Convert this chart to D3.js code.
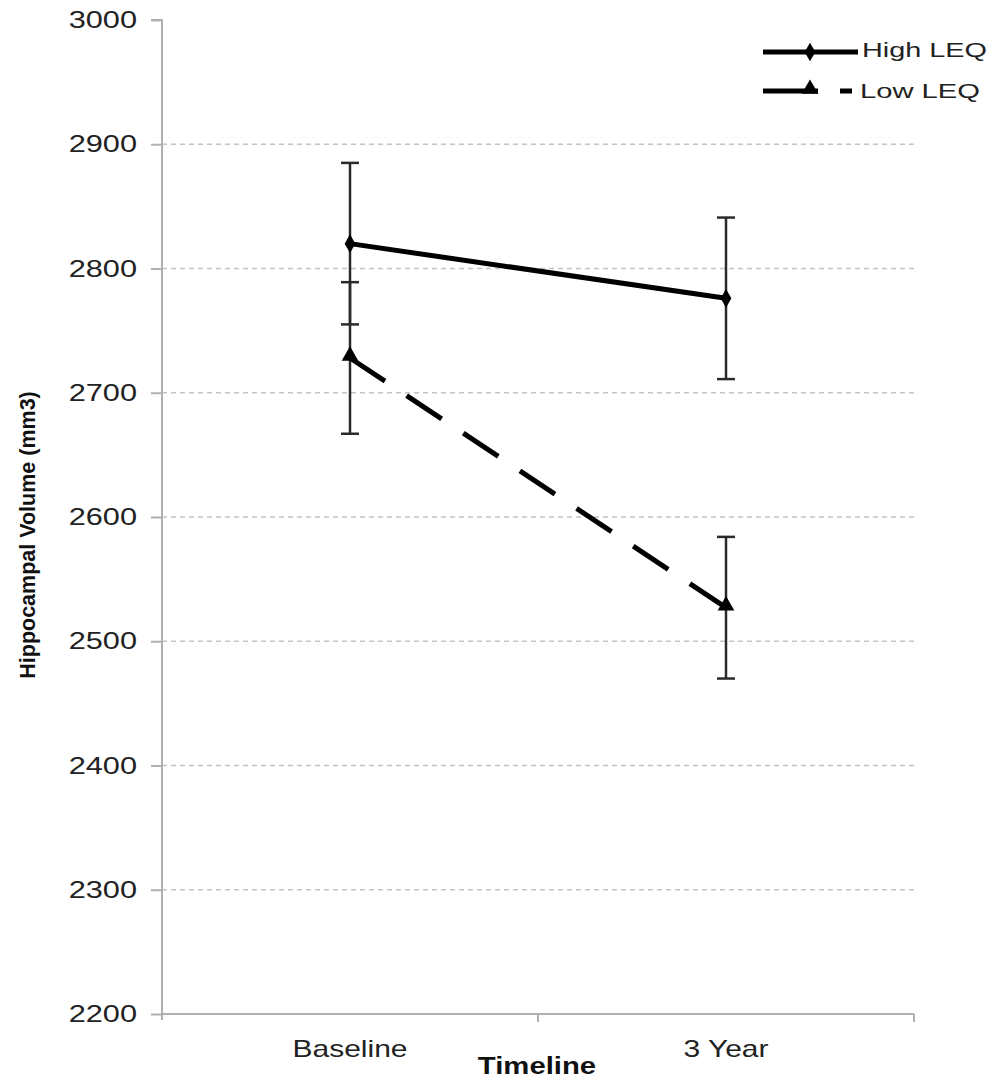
<!DOCTYPE html>
<html>
<head>
<meta charset="utf-8">
<script src="https://cdn.jsdelivr.net/npm/d3@7"></script>
<style>
  body { margin: 0; background: #fff; }
  text { font-family: "Liberation Sans", Arial, sans-serif; }
</style>
</head>
<body>
<div id="vis"></div>
<script>
// data
let timepoints = ['Baseline', '3 Year'];
let highLEQ = [2820, 2776];
let highErr = [65, 65];
let lowLEQ = [2728, 2527];
let lowErr = [61, 57];
let yTicks = [2200, 2300, 2400, 2500, 2600, 2700, 2800, 2900, 3000];
let seriesNames = ['High LEQ', 'Low LEQ'];

let width = 995, height = 1080;
let plotLeft = 162, plotRight = 914, plotTop = 20, plotBottom = 1014;

let svg = d3.select('#vis')
  .append('svg')
  .attr('width', width)
  .attr('height', height)
  .style('background-color', 'white');

let x = d3.scalePoint().domain(timepoints).range([plotLeft, plotRight]).padding(0.5);
let xb = d3.scaleBand().domain(timepoints).range([plotLeft, plotRight]).paddingInner(0);
let y = d3.scaleLinear().domain([2200, 3000]).range([plotBottom, plotTop]);

// stretch horizontal labels a bit, the source image is wider than a normal font
function stretch(sel, k) {
  sel.each(function() {
    let w = this.getComputedTextLength();
    d3.select(this).attr('textLength', w * k).attr('lengthAdjust', 'spacingAndGlyphs');
  });
}

// gridlines
svg.append('g')
  .selectAll('line')
  .data(yTicks.filter(d => d > 2200 && d < 3000))
  .join('line')
  .attr('x1', plotLeft).attr('x2', plotRight)
  .attr('y1', d => y(d)).attr('y2', d => y(d))
  .attr('stroke', '#c4c4c4')
  .attr('stroke-width', 1.5)
  .attr('stroke-dasharray', '5,4');

// y axis
let yAxis = svg.append('g')
  .attr('transform', `translate(${plotLeft},0)`)
  .call(d3.axisLeft(y).tickValues(yTicks).tickSize(11).tickPadding(14).tickFormat(d3.format('d')));
yAxis.select('.domain').attr('stroke', '#b0b0b0').attr('stroke-width', 2).attr('d', `M-11,${plotTop}H0V${plotBottom + 6}`);
yAxis.selectAll('.tick line').attr('stroke', '#b0b0b0').attr('stroke-width', 2);
yAxis.selectAll('.tick text')
  .attr('font-size', 24)
  .attr('fill', '#222')
  .call(stretch, 1.28);

// x axis
let xAxis = svg.append('g')
  .attr('transform', `translate(0,${plotBottom})`)
  .call(d3.axisBottom(xb).tickSize(0).tickFormat(''));
xAxis.select('.domain').attr('stroke', '#b0b0b0').attr('stroke-width', 2).attr('d', `M${plotLeft},0H${plotRight}`);
xAxis.selectAll('.tick').remove();
xAxis.selectAll('.bound')
  .data(timepoints)
  .join('line')
  .attr('x1', d => xb(d) + xb.bandwidth()).attr('x2', d => xb(d) + xb.bandwidth())
  .attr('y1', 0).attr('y2', 8)
  .attr('stroke', '#b0b0b0').attr('stroke-width', 2);

svg.append('g')
  .selectAll('text')
  .data(timepoints)
  .join('text')
  .attr('x', d => x(d))
  .attr('y', 1057)
  .attr('text-anchor', 'middle')
  .attr('font-size', 24)
  .attr('fill', '#222')
  .text(d => d)
  .call(stretch, 1.25);

svg.append('text')
  .attr('x', 537)
  .attr('y', 1074)
  .attr('text-anchor', 'middle')
  .attr('font-size', 24)
  .attr('font-weight', 'bold')
  .attr('fill', '#111')
  .text('Timeline')
  .call(stretch, 1.22);

svg.append('text')
  .attr('transform', 'translate(35,535) rotate(-90)')
  .attr('text-anchor', 'middle')
  .attr('font-size', 21.5)
  .attr('font-weight', 'bold')
  .attr('fill', '#111')
  .text('Hippocampal Volume (mm3)');

// error bars
function errorBars(vals, errs) {
  let g = svg.append('g').attr('stroke', '#2a2a2a').attr('stroke-width', 2.5);
  let d = timepoints.map((t, i) => ({ t: t, v: vals[i], e: errs[i] }));
  g.selectAll('.v').data(d).join('line')
    .attr('x1', d => x(d.t)).attr('x2', d => x(d.t))
    .attr('y1', d => y(d.v + d.e)).attr('y2', d => y(d.v - d.e));
  g.selectAll('.top').data(d).join('line')
    .attr('x1', d => x(d.t) - 9).attr('x2', d => x(d.t) + 9)
    .attr('y1', d => y(d.v + d.e)).attr('y2', d => y(d.v + d.e));
  g.selectAll('.bot').data(d).join('line')
    .attr('x1', d => x(d.t) - 9).attr('x2', d => x(d.t) + 9)
    .attr('y1', d => y(d.v - d.e)).attr('y2', d => y(d.v - d.e));
}
errorBars(highLEQ, highErr);
errorBars(lowLEQ, lowErr);

let line = d3.line().x((d, i) => x(timepoints[i])).y(d => y(d));

svg.append('path')
  .datum(highLEQ)
  .attr('d', line)
  .attr('fill', 'none')
  .attr('stroke', '#000')
  .attr('stroke-width', 5);

svg.append('path')
  .datum(lowLEQ)
  .attr('d', line)
  .attr('fill', 'none')
  .attr('stroke', '#000')
  .attr('stroke-width', 5)
  .attr('stroke-dasharray', '42,26');

let diamond = d3.symbol().type(d3.symbolDiamond).size(100);
let triangle = d3.symbol().type(d3.symbolTriangle).size(120);

svg.append('g').selectAll('path')
  .data(highLEQ)
  .join('path')
  .attr('transform', (d, i) => `translate(${x(timepoints[i])},${y(d)})`)
  .attr('d', diamond)
  .attr('fill', '#000');

svg.append('g').selectAll('path')
  .data(lowLEQ)
  .join('path')
  .attr('transform', (d, i) => `translate(${x(timepoints[i])},${y(d) - 2})`)
  .attr('d', triangle)
  .attr('fill', '#000');

// legend
let legend = svg.append('g');
legend.append('line')
  .attr('x1', 763).attr('x2', 858).attr('y1', 52).attr('y2', 52)
  .attr('stroke', '#000').attr('stroke-width', 5);
legend.append('path')
  .attr('transform', 'translate(810,52)')
  .attr('d', diamond)
  .attr('fill', '#000');
legend.append('line')
  .attr('x1', 763).attr('x2', 852).attr('y1', 91).attr('y2', 91)
  .attr('stroke', '#000').attr('stroke-width', 5)
  .attr('stroke-dasharray', '55,22');
legend.append('path')
  .attr('transform', 'translate(810,89)')
  .attr('d', triangle)
  .attr('fill', '#000');
legend.selectAll('text')
  .data(seriesNames)
  .join('text')
  .attr('x', (d, i) => i == 0 ? 862 : 860)
  .attr('y', (d, i) => i == 0 ? 57 : 98)
  .attr('font-size', 20)
  .attr('fill', '#222')
  .attr('textLength', (d, i) => i == 0 ? 125 : 120)
  .attr('lengthAdjust', 'spacingAndGlyphs')
  .text(d => d);
</script>
</body>
</html>
